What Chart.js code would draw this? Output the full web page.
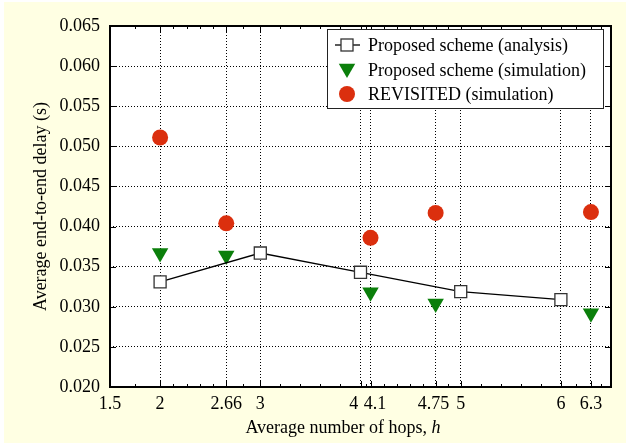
<!DOCTYPE html>
<html>
<head>
<meta charset="utf-8">
<script src="https://cdn.jsdelivr.net/npm/chart.js@4/dist/chart.umd.min.js"></script>
<style>
  html, body { margin: 0; padding: 0; background: #ffffff; }
  #wrap { width: 630px; height: 446px; }
</style>
</head>
<body>
<div id="wrap"><canvas id="delayChart" width="630" height="446"></canvas></div>
<script>
// --- Data ---
const xTicks = [1.5, 2, 2.66, 3, 4, 4.1, 4.75, 5, 6, 6.3];
// printed labels; the spaces nudge the crowded "4 4.1" pair apart like the original
const xTickLabels = ["1.5", "2", "2.66", "3", "4   ", "  4.1", "4.75 ", "5", "6", "6.3"];
const yTicks = [0.020, 0.025, 0.030, 0.035, 0.040, 0.045, 0.050, 0.055, 0.060, 0.065];

const analysisHops = [2, 3, 4, 5, 6];
const analysisDelay = [0.0331, 0.0367, 0.0343, 0.0319, 0.0309];

const simHops = [2, 2.66, 4.1, 4.75, 6.3];
const simDelay = [0.0367, 0.0364, 0.0318, 0.0304, 0.0292];

const revisitedHops = [2, 2.66, 4.1, 4.75, 6.3];
const revisitedDelay = [0.0511, 0.0404, 0.0386, 0.0417, 0.0418];

const seriesNames = [
  "Proposed scheme (analysis)",
  "Proposed scheme (simulation)",
  "REVISITED (simulation)"
];

const RED = "#db2f0e";
const GREEN = "#0b7f0b";
const SERIF = "'Liberation Serif', 'Times New Roman', serif";

function toPoints(xs, ys) {
  return xs.map((x, i) => ({ x: x, y: ys[i] }));
}

// --- Drawing helpers (background, frame, minor ticks, legend, titles) ---
const decorPlugin = {
  id: "decor",
  beforeDraw(chart) {
    const ctx = chart.ctx;
    ctx.save();
    ctx.fillStyle = "#ffffff";
    ctx.fillRect(0, 0, chart.width, chart.height);
    ctx.fillStyle = "#ffffe3";
    ctx.fillRect(4, 2, 622, 441);
    const a = chart.chartArea;
    ctx.fillStyle = "#ffffff";
    ctx.fillRect(a.left, a.top, a.right - a.left, a.bottom - a.top);
    ctx.restore();
  },
  beforeDatasetsDraw(chart) {
    const ctx = chart.ctx;
    const a = chart.chartArea;
    const xs = chart.scales.x;
    const ys = chart.scales.y;
    ctx.save();
    ctx.strokeStyle = "#000";
    ctx.lineWidth = 1;
    ctx.beginPath();
    // major ticks, inward on all four sides
    xTicks.forEach(v => {
      const px = Math.round(xs.getPixelForValue(v)) + 0.5;
      ctx.moveTo(px, a.bottom); ctx.lineTo(px, a.bottom - 6);
      ctx.moveTo(px, a.top); ctx.lineTo(px, a.top + 6);
    });
    yTicks.forEach(v => {
      const py = Math.round(ys.getPixelForValue(v)) + 0.5;
      ctx.moveTo(a.left, py); ctx.lineTo(a.left + 6, py);
      ctx.moveTo(a.right, py); ctx.lineTo(a.right - 6, py);
    });
    // minor ticks between the x ticks
    const edges = xTicks.concat([xs.max]);
    for (let i = 0; i < edges.length - 1; i++) {
      const lo = edges[i], hi = edges[i + 1];
      const parts = (hi - lo) > 0.5 + 1e-9 ? 5 : 2;
      for (let k = 1; k < parts; k++) {
        const px = Math.round(xs.getPixelForValue(lo + (hi - lo) * k / parts)) + 0.5;
        ctx.moveTo(px, a.bottom); ctx.lineTo(px, a.bottom - 3);
        ctx.moveTo(px, a.top); ctx.lineTo(px, a.top + 3);
      }
    }
    ctx.stroke();
    // frame
    ctx.lineWidth = 2;
    ctx.strokeRect(a.left, a.top, a.right - a.left, a.bottom - a.top);
    ctx.restore();
  },
  afterDraw(chart) {
    const ctx = chart.ctx;
    const a = chart.chartArea;
    ctx.save();

    // legend box
    ctx.fillStyle = "#ffffff";
    ctx.fillRect(327, 29, 276, 79);
    ctx.strokeStyle = "#222";
    ctx.lineWidth = 1;
    ctx.strokeRect(327.5, 29.5, 276, 79);

    const rows = [45, 70, 94];
    const mx = 347;
    // analysis: line + open square
    ctx.strokeStyle = "#000";
    ctx.lineWidth = 1.3;
    ctx.beginPath();
    ctx.moveTo(335, rows[0]); ctx.lineTo(360, rows[0]);
    ctx.stroke();
    ctx.fillStyle = "#ffffff";
    ctx.fillRect(mx - 6, rows[0] - 6, 12, 12);
    ctx.strokeStyle = "#333";
    ctx.strokeRect(mx - 6, rows[0] - 6, 12, 12);
    // simulation: down triangle
    const r = 9.5;
    ctx.fillStyle = GREEN;
    ctx.beginPath();
    ctx.moveTo(mx, rows[1] + r * 0.85);
    ctx.lineTo(mx - r * 0.866, rows[1] - r * 0.65);
    ctx.lineTo(mx + r * 0.866, rows[1] - r * 0.65);
    ctx.closePath();
    ctx.fill();
    // revisited: circle
    ctx.fillStyle = RED;
    ctx.beginPath();
    ctx.arc(mx, rows[2], 8, 0, Math.PI * 2);
    ctx.fill();

    ctx.fillStyle = "#000";
    ctx.font = "18px " + SERIF;
    ctx.textBaseline = "middle";
    ctx.textAlign = "left";
    seriesNames.forEach((name, i) => ctx.fillText(name, 368, rows[i] + 1));

    // x axis title with italic h
    const part1 = "Average number of hops, ";
    const part2 = "h";
    ctx.font = "18px " + SERIF;
    const w1 = ctx.measureText(part1).width;
    ctx.font = "italic 18px " + SERIF;
    const w2 = ctx.measureText(part2).width;
    let sx = 343 - (w1 + w2) / 2;
    ctx.font = "18px " + SERIF;
    ctx.fillText(part1, sx, 428);
    ctx.font = "italic 18px " + SERIF;
    ctx.fillText(part2, sx + w1, 428);

    // y axis title
    ctx.translate(41, (a.top + a.bottom) / 2);
    ctx.rotate(-Math.PI / 2);
    ctx.font = "18px " + SERIF;
    ctx.textAlign = "center";
    ctx.fillText("Average end-to-end delay (s)", 0, 0);
    ctx.restore();
  }
};

new Chart(document.getElementById("delayChart"), {
  type: "line",
  data: {
    datasets: [
      {
        label: seriesNames[0],
        data: toPoints(analysisHops, analysisDelay),
        borderColor: "#000",
        borderWidth: 1.3,
        pointStyle: "rect",
        pointRadius: 8.5,
        pointBorderColor: "#333",
        pointBackgroundColor: "#ffffff",
        pointBorderWidth: 1.3,
        tension: 0
      },
      {
        label: seriesNames[1],
        data: toPoints(simHops, simDelay),
        showLine: false,
        pointStyle: "triangle",
        rotation: 180,
        pointRadius: 9.5,
        pointBorderWidth: 0,
        pointBackgroundColor: GREEN,
        pointBorderColor: GREEN
      },
      {
        label: seriesNames[2],
        data: toPoints(revisitedHops, revisitedDelay),
        showLine: false,
        pointStyle: "circle",
        pointRadius: 8,
        pointBorderWidth: 0,
        pointBackgroundColor: RED,
        pointBorderColor: RED
      }
    ]
  },
  options: {
    responsive: false,
    animation: false,
    devicePixelRatio: 1,
    layout: { padding: { top: 26, right: 19, left: 0, bottom: 0 } },
    plugins: {
      legend: { display: false },
      tooltip: { enabled: false }
    },
    scales: {
      x: {
        type: "linear",
        min: 1.5,
        max: 6.5,
        afterBuildTicks: scale => { scale.ticks = xTicks.map(v => ({ value: v })); },
        afterFit: scale => { scale.height = 59; },
        grid: { color: "#000", lineWidth: 1, drawTicks: false },
        border: { display: false, dash: [1, 2] },
        ticks: {
          autoSkip: false,
          maxRotation: 0,
          padding: 6,
          color: "#000",
          font: { family: SERIF, size: 18 },
          callback: (v, i) => xTickLabels[i]
        }
      },
      y: {
        min: 0.02,
        max: 0.065,
        afterBuildTicks: scale => { scale.ticks = yTicks.map(v => ({ value: v })); },
        afterFit: scale => { scale.width = 110; },
        grid: { color: "#000", lineWidth: 1, drawTicks: false },
        border: { display: false, dash: [1, 2] },
        ticks: {
          padding: 10,
          color: "#000",
          font: { family: SERIF, size: 18 },
          callback: v => v.toFixed(3)
        }
      }
    }
  },
  plugins: [decorPlugin]
});
</script>
</body>
</html>
